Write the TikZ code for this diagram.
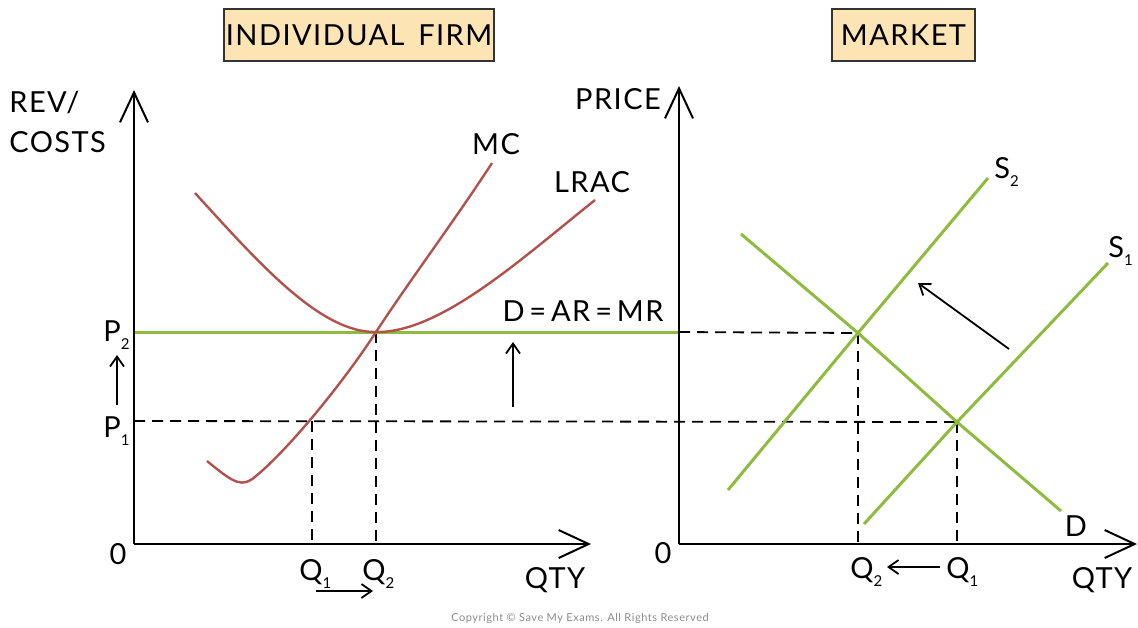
\documentclass[tikz,border=0pt]{standalone}
\usepackage{fontspec}
\setmainfont[LetterSpace=5]{Lato}
\usepackage{tikz}
\usetikzlibrary{arrows.meta, positioning}
\definecolor{costred}{RGB}{178,82,76}
\definecolor{mktgreen}{RGB}{141,188,62}
\definecolor{boxfill}{RGB}{252,228,180}
\newcommand{\lowsub}[1]{\raisebox{-0.55ex}{\fontsize{7.5}{8}\selectfont #1}}

\begin{document}
\begin{tikzpicture}[x=0.5pt,y=-0.5pt,
    axisline/.style={line width=1pt, -{Straight Barb[length=15pt,width=14pt]}},
    movearrow/.style={line width=0.9pt, -{Straight Barb[length=5pt,width=7pt]}},
    costcurve/.style={costred, line width=1.2pt},
    mktline/.style={mktgreen, line width=1.5pt},
    guide/.style={line width=0.9pt, dash pattern=on 5.5pt off 3.5pt},
    titlebox/.style={draw=black!80, fill=boxfill, line width=0.8pt, minimum height=26pt, inner sep=0pt, font=\fontsize{14.5}{16}\selectfont},
    lab/.style={font=\fontsize{14.5}{20}\selectfont, inner sep=0pt}]

    \useasboundingbox (0,0) rectangle (1138,627);

    \coordinate (O1) at (134,544);
    \coordinate (Y1) at (134,90);
    \coordinate (X1) at (591,544);
    \coordinate (O2) at (679,544);
    \coordinate (Y2) at (679,86);
    \coordinate (X2) at (1137,544);

    \coordinate (E2) at (376,332);
    \coordinate (F1) at (312,421);
    \coordinate (M2) at (858,333);
    \coordinate (M1) at (957,422);
    \coordinate (P2a) at (134,332);
    \coordinate (P2b) at (679,332);
    \coordinate (P1a) at (134,421);

    % titles
    \node[titlebox, minimum width=135pt] (firmtitle) at (359,35) {INDIVIDUAL\, FIRM};
    \node[titlebox, minimum width=71.5pt] (mkttitle) at (903.5,35) {MARKET};

    % guides
    \draw[guide] (P1a) -- (M1);
    \draw[guide] (P2b) -- (M2);
    \foreach \pt/\xx in {F1/312, E2/376, M2/858, M1/957}{
        \draw[guide] (\pt) -- (\xx,544);
    }

    % firm
    \draw[mktline] (P2a) -- (P2b);
    \draw[costcurve] (195,193) .. controls (258,262) and (320,333) .. (E2)
        .. controls (440,333) and (520,260) .. (595,200);
    \draw[costcurve] (207,461) .. controls (235,484) and (242,488) .. (256,476)
        .. controls (290,448) and (345,380) .. (E2)
        .. controls (410,280) and (455,220) .. (492,163);

    % market
    \draw[mktline] (728,490) -- (M2) -- (988,178);
    \draw[mktline] (864,524) -- (M1) -- (1108,263);
    \draw[mktline] (741,234) -- (M2) -- (M1) -- (1061,511);

    % axes
    \draw[axisline] (O1) -- (Y1);
    \draw[axisline] (O1) -- (X1);
    \draw[axisline] (O2) -- (Y2);
    \draw[axisline] (O2) -- (X2);

    % shifts
    \draw[movearrow] (117,405) -- (117,355);
    \draw[movearrow] (513,407) -- (513,342);
    \draw[movearrow] (316,591) -- (373,591);
    \draw[movearrow] (1009,349) -- (918,283);
    \draw[movearrow] (940,567) -- (887,567);

    % labels
    \node[lab, anchor=north west, align=left] (revlab) at (9,91) {REV/\\COSTS};
    \node[lab] (mclab) at (496,144) {MC};
    \node[lab] (lraclab) at (592,182) {LRAC};
    \node[lab] (arlab) at (583,311) {D\,=\,AR\,=\,MR};
    \node[lab, anchor=base west] (p2lab) at (103,341) {P\lowsub{2}};
    \node[lab, anchor=base west] (p1lab) at (103,437) {P\lowsub{1}};
    \node[lab] (zero1) at (118,554) {0};
    \node[lab, anchor=base west] (q1lab) at (299,580) {Q\lowsub{1}};
    \node[lab, anchor=base west] (q2lab) at (362,580) {Q\lowsub{2}};
    \node[lab] (qty1) at (555,580) {QTY};

    \node[lab] (pricelab) at (618,99) {PRICE};
    \node[lab, anchor=base west] (s2lab) at (994,178) {S\lowsub{2}};
    \node[lab, anchor=base west] (s1lab) at (1108,257) {S\lowsub{1}};
    \node[lab] (dlab) at (1076,526) {D};
    \node[lab] (zero2) at (663,553) {0};
    \node[lab, anchor=base west] (q2mlab) at (850,578) {Q\lowsub{2}};
    \node[lab, anchor=base west] (q1mlab) at (946,578) {Q\lowsub{1}};
    \node[lab] (qty2) at (1102,580) {QTY};

    \node[font=\fontsize{5.5}{6}\selectfont, text=black!45, inner sep=0pt] (copyr) at (580,618) {Copyright \textcopyright{} Save My Exams. All Rights Reserved};
\end{tikzpicture}
\end{document}
